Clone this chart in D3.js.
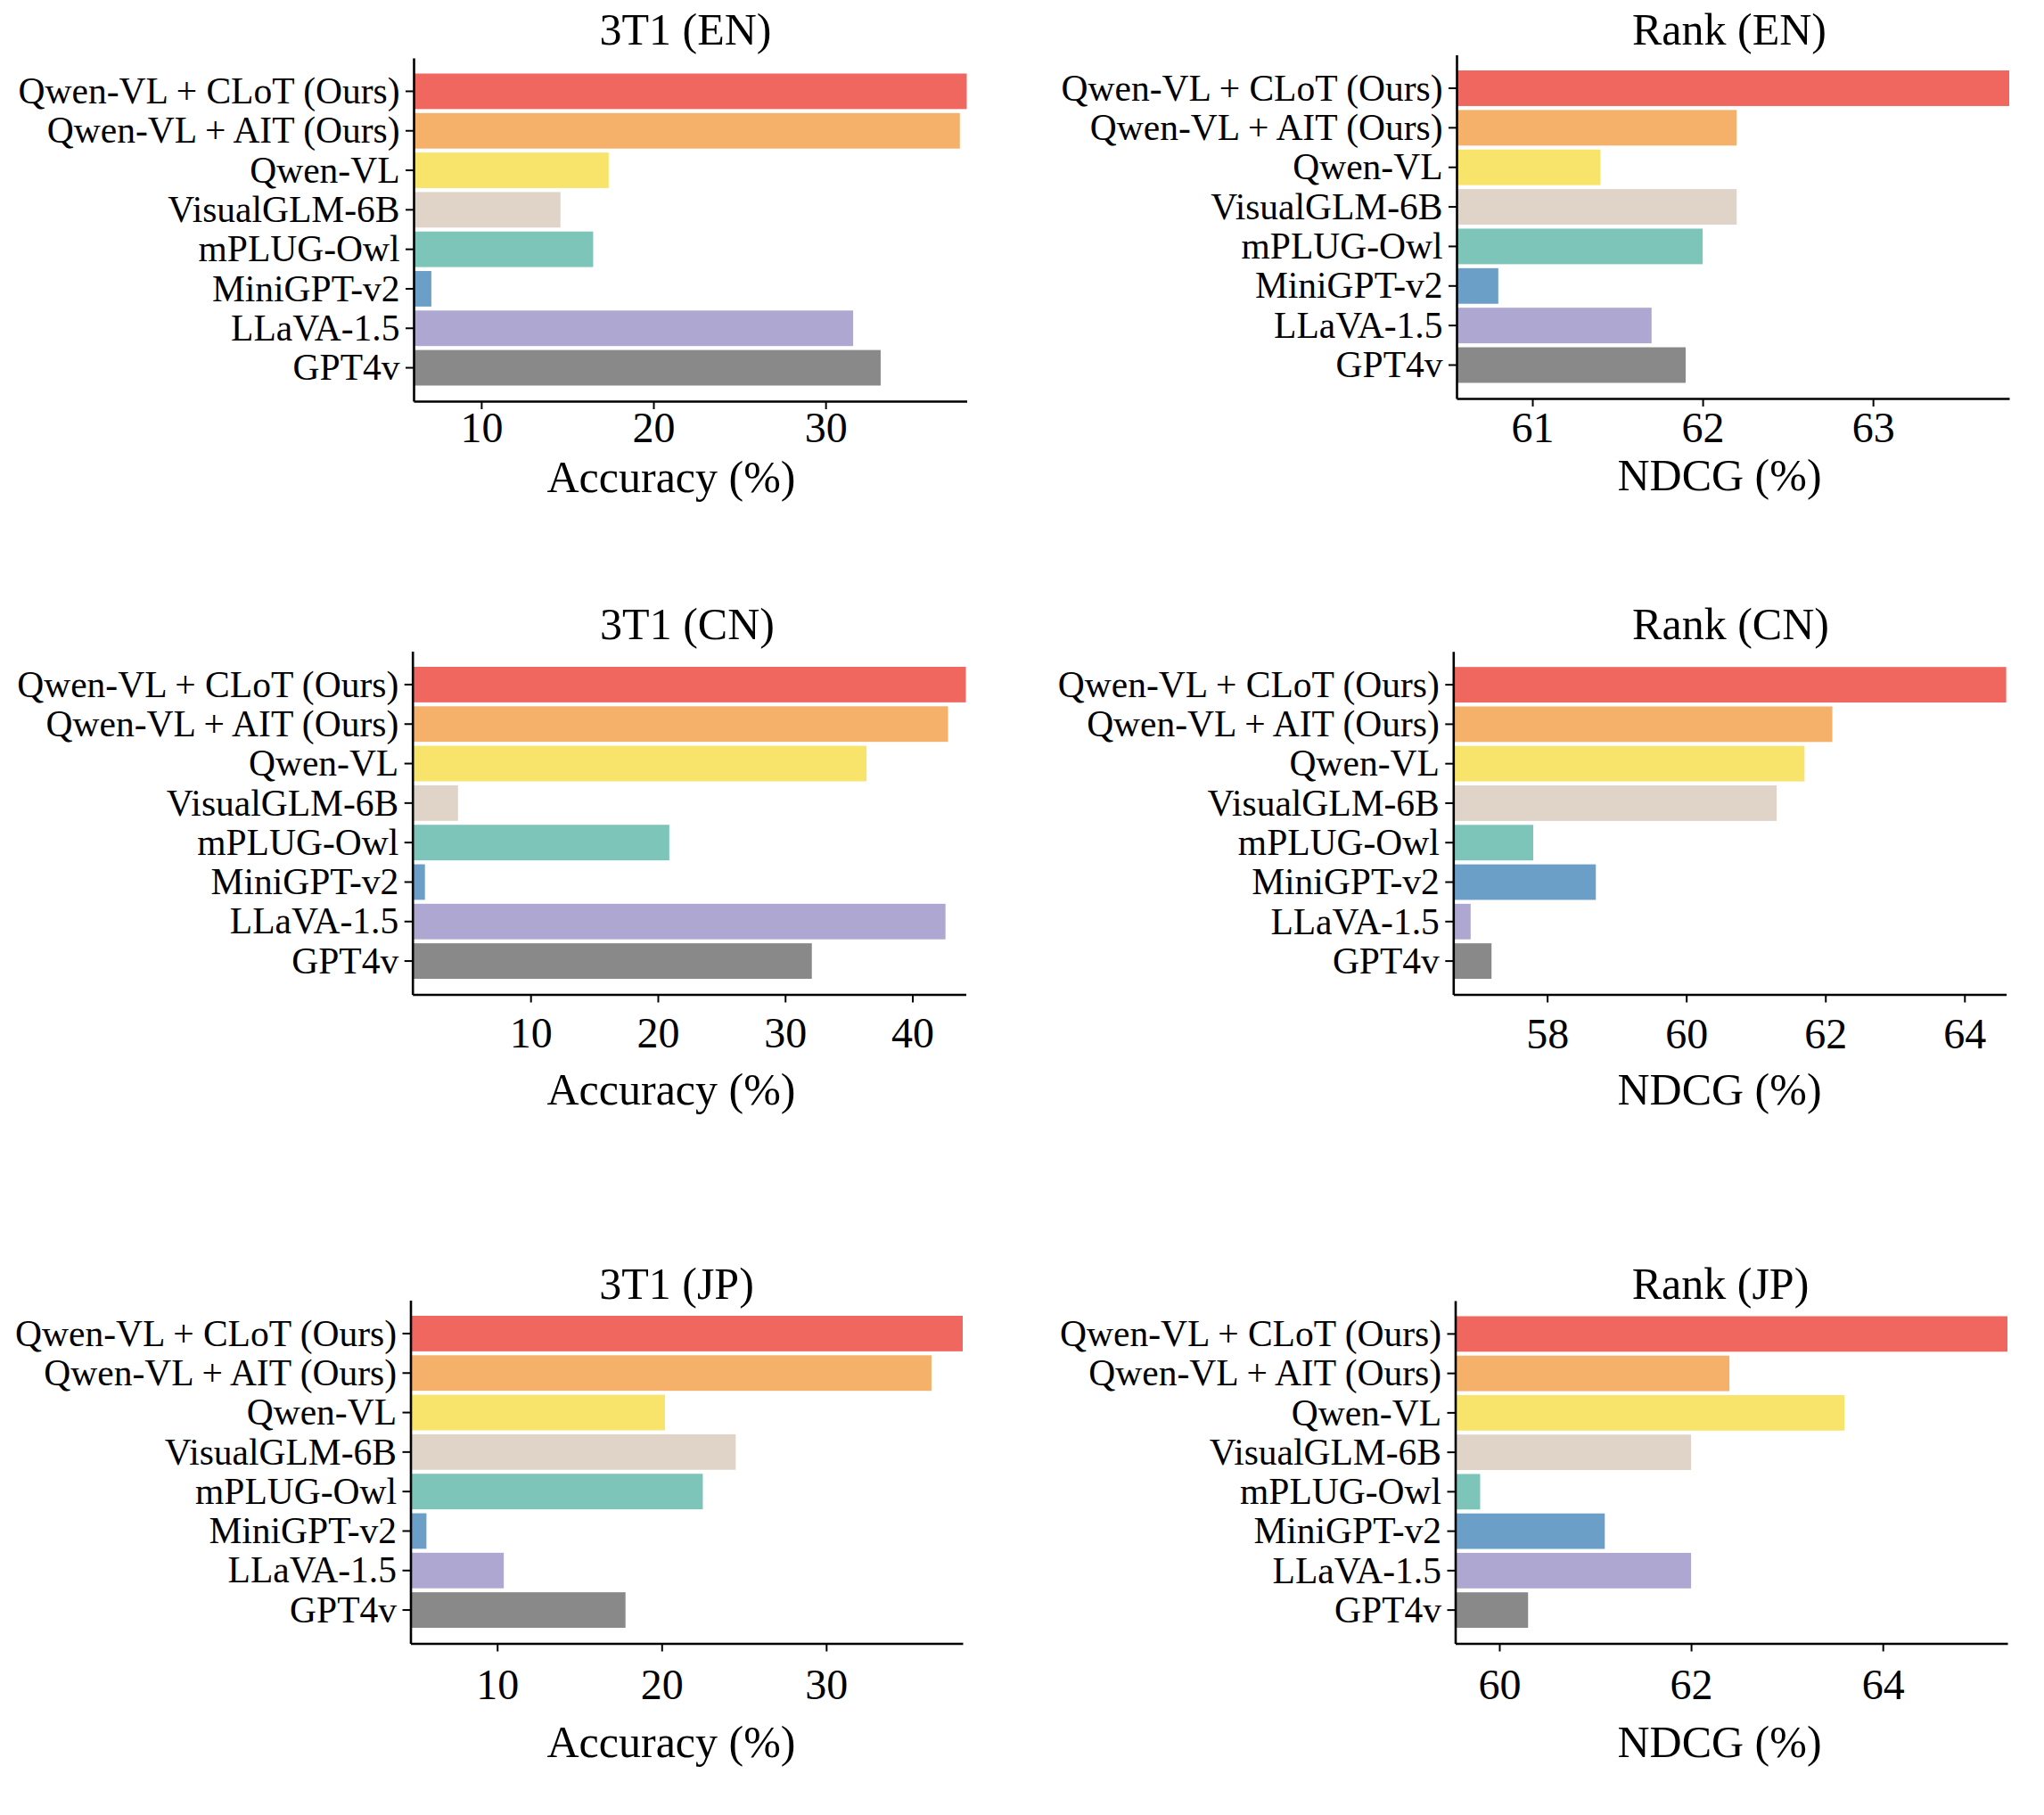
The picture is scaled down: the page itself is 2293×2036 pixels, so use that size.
<!DOCTYPE html>
<html>
<head>
<meta charset="utf-8">
<script src="https://cdn.jsdelivr.net/npm/d3@7"></script>
<style>
  body { margin: 0; background: #fff; }
  text { font-family: "Liberation Serif", "Times New Roman", Times, serif; fill: #000; }
</style>
</head>
<body>
<svg id="chart" width="2293" height="2036"></svg>
<script>
// ---------- data ----------
const models = [
  "Qwen-VL + CLoT (Ours)",
  "Qwen-VL + AIT (Ours)",
  "Qwen-VL",
  "VisualGLM-6B",
  "mPLUG-Owl",
  "MiniGPT-v2",
  "LLaVA-1.5",
  "GPT4v"
];
const barColors = ["#EF675E", "#F5B06A", "#F9E46B", "#E0D4C9", "#7DC5B9", "#6C9FC8", "#ADA7D2", "#898989"];

const en3T1   = [38.2, 37.8, 17.4, 14.6, 16.5, 7.1, 31.6, 33.2];
const enRank  = [63.8, 62.2, 61.4, 62.2, 62.0, 60.8, 61.7, 61.9];
const cn3T1   = [44.2, 42.8, 36.4, 4.3, 20.9, 1.7, 42.6, 32.1];
const cnRank  = [64.6, 62.1, 61.7, 61.3, 57.8, 58.7, 56.9, 57.2];
const jp3T1   = [38.3, 36.4, 20.2, 24.5, 22.5, 5.7, 10.4, 17.8];
const jpRank  = [65.3, 62.4, 63.6, 62.0, 59.8, 61.1, 62.0, 60.3];

const panelTitles = ["3T1 (EN)", "Rank (EN)", "3T1 (CN)", "Rank (CN)", "3T1 (JP)", "Rank (JP)"];
const panelXLabels = ["Accuracy (%)", "NDCG (%)", "Accuracy (%)", "NDCG (%)", "Accuracy (%)", "NDCG (%)"];
const panelTicks = [[10, 20, 30], [61, 62, 63], [10, 20, 30, 40], [58, 60, 62, 64], [10, 20, 30], [60, 62, 64]];
const panelXMin = [6.07, 60.555, 0.72, 56.65, 4.73, 59.54];
const panelValues = [en3T1, enRank, cn3T1, cnRank, jp3T1, jpRank];

// ---------- layout (pixel geometry) ----------
const layout = [
  {x0: 464,    x1: 1084.5, y0: 65,    y1: 450,    titleX: 769,    titleY: 50,   tickY: 496,  labX: 753,  labY: 552},
  {x0: 1634,   x1: 2254,   y0: 61.5,  y1: 447,    titleX: 1940,   titleY: 50,   tickY: 496,  labX: 1929, labY: 550},
  {x0: 462.7,  x1: 1083.5, y0: 730.5, y1: 1115.5, titleX: 771,    titleY: 717,  tickY: 1175, labX: 753,  labY: 1239},
  {x0: 1630.3, x1: 2250.6, y0: 730.7, y1: 1115.5, titleX: 1941.5, titleY: 717,  tickY: 1176, labX: 1929, labY: 1239},
  {x0: 460.5,  x1: 1080,   y0: 1458.5,y1: 1843.5, titleX: 759,    titleY: 1457, tickY: 1906, labX: 753,  labY: 1971},
  {x0: 1632.5, x1: 2252,   y0: 1459,  y1: 1843.5, titleX: 1930,   titleY: 1457, tickY: 1906, labX: 1929, labY: 1971}
];

const svg = d3.select("#chart");
svg.append("rect").attr("width", 2293).attr("height", 2036).attr("fill", "#fff");

const colorScale = d3.scaleOrdinal().domain(models).range(barColors);

panelValues.forEach((vals, i) => {
  const L = layout[i];
  const data = models.map((m, k) => ({model: m, value: vals[k]}));
  const x = d3.scaleLinear().domain([panelXMin[i], d3.max(vals)]).range([L.x0, L.x1]);
  const y = d3.scaleBand().domain(models).range([L.y0, L.y1]).paddingInner(0.1).paddingOuter(0.395);

  const g = svg.append("g");

  // bars
  g.selectAll("rect.bar").data(data).join("rect")
    .attr("class", "bar")
    .attr("x", x(panelXMin[i]))
    .attr("y", d => y(d.model))
    .attr("width", d => x(d.value) - x(panelXMin[i]))
    .attr("height", y.bandwidth())
    .attr("fill", d => colorScale(d.model));

  // x axis
  const xa = g.append("g")
    .attr("transform", `translate(0,${L.y1})`)
    .call(d3.axisBottom(x).tickValues(panelTicks[i]).tickFormat(d3.format("d")).tickSize(9).tickSizeOuter(0));
  xa.select(".domain").attr("stroke", "#000").attr("stroke-width", 2.6);
  xa.selectAll(".tick line").attr("stroke", "#000").attr("stroke-width", 2);
  xa.selectAll(".tick text")
    .attr("y", L.tickY - L.y1).attr("dy", null)
    .style("font-size", "48px")
    .style("font-family", '"Liberation Serif", "Times New Roman", serif')
    .attr("fill", "#000");

  // y axis
  const ya = g.append("g")
    .attr("transform", `translate(${L.x0},0)`)
    .call(d3.axisLeft(y).tickSize(9).tickPadding(6.5).tickSizeOuter(0));
  ya.select(".domain").attr("stroke", "#000").attr("stroke-width", 2.6);
  ya.selectAll(".tick line").attr("stroke", "#000").attr("stroke-width", 2);
  ya.selectAll(".tick text")
    .attr("dy", "0.33em")
    .style("font-size", "41.5px")
    .style("font-family", '"Liberation Serif", "Times New Roman", serif')
    .attr("fill", "#000");

  // title
  g.append("text")
    .attr("x", L.titleX).attr("y", L.titleY)
    .attr("text-anchor", "middle")
    .style("font-size", "50px")
    .text(panelTitles[i]);

  // x label
  g.append("text")
    .attr("x", L.labX).attr("y", L.labY)
    .attr("text-anchor", "middle")
    .style("font-size", "50px")
    .text(panelXLabels[i]);
});
</script>
</body>
</html>
